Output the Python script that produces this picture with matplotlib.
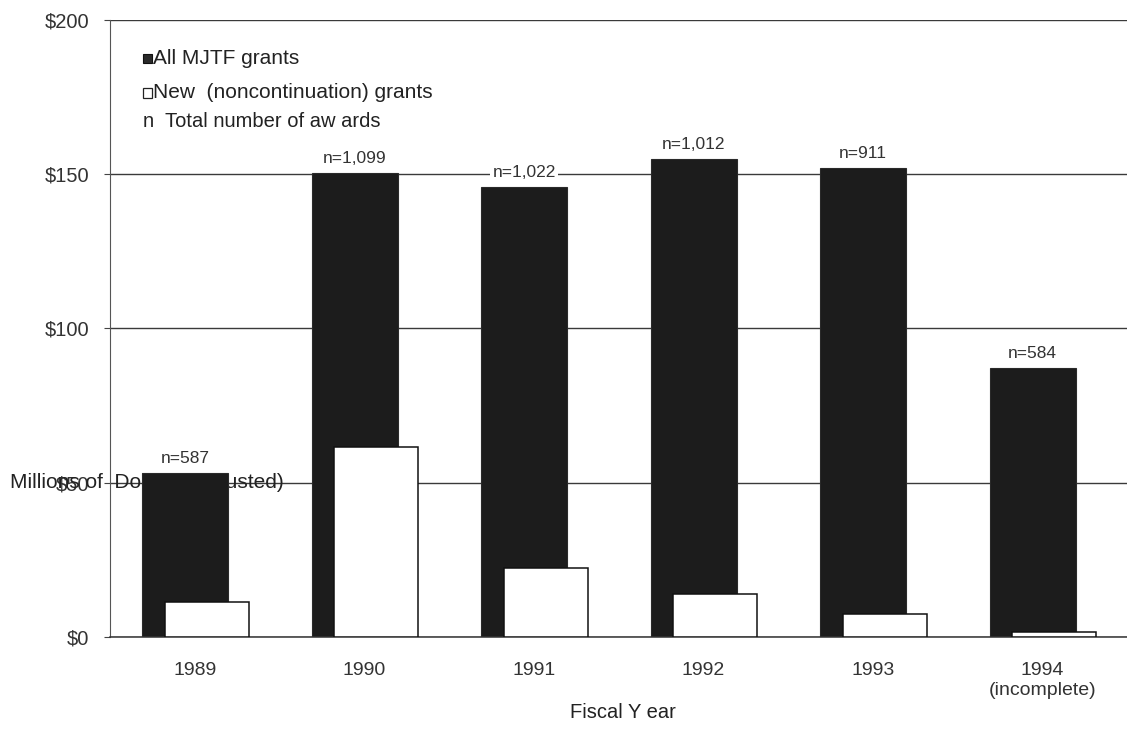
import matplotlib
matplotlib.use("Agg")
import matplotlib.pyplot as plt
from matplotlib.patches import Rectangle
import numpy as np

plt.rcParams['font.family'] = ['Liberation Sans', 'DejaVu Sans']

years = ["1989", "1990", "1991", "1992", "1993", "1994\n(incomplete)"]
all_grants = [53.2, 150.5, 145.8, 155.0, 152.0, 87.3]
new_grants = [11.3, 61.6, 22.4, 14.0, 7.5, 1.6]
n_awards = ["n=587", "n=1,099", "n=1,022", "n=1,012", "n=911", "n=584"]
yticks = [0, 50, 100, 150, 200]

fig = plt.figure(figsize=(11.27, 7.38), dpi=100)
ax = fig.add_axes([0.0976, 0.1369, 0.9024, 0.836])

x = np.arange(len(years))
dark = ax.bar(x - 0.056, all_grants, width=0.51, color='#1c1c1c',
              edgecolor='#2a2a2a', linewidth=0.8, zorder=2)
ax.bar(x + 0.07, new_grants, width=0.495, color='white',
       edgecolor='#111111', linewidth=1.1, zorder=3)

for rect, lab in zip(dark, n_awards):
    ax.text(rect.get_x() + rect.get_width() / 2, rect.get_height() + 2.3, lab,
            ha='center', va='bottom', fontsize=12.5, color='#333333',
            bbox=dict(facecolor='white', edgecolor='none', pad=1.5), zorder=4)

ax.set_xlim(-0.5, 5.5)
ax.set_ylim(0, 200)
ax.set_yticks(yticks)
ax.set_yticklabels(["$%d" % v for v in yticks])
ax.set_xticks(x)
ax.set_xticklabels(years, linespacing=1.25)
ax.tick_params(axis='x', length=0, pad=18, labelsize=14, labelcolor='#333333')
ax.tick_params(axis='y', length=4, width=0.8, pad=11, labelsize=14.5,
               labelcolor='#333333', color='#444444')

ax.set_axisbelow(True)
ax.yaxis.grid(True, color='#3a3a3a', linewidth=1.0)
for side in ['top', 'right']:
    ax.spines[side].set_visible(False)
ax.spines['left'].set_color('#555555')
ax.spines['bottom'].set_color('#333333')
ax.spines['bottom'].set_linewidth(1.1)

ax.set_ylabel("Millions of  Dollars  (adjusted)", rotation=0, ha='left',
              va='center', fontsize=15, color='#222222')
ax.yaxis.set_label_coords(-0.098, 0.25)

fig.text(0.553, 1 - 712 / 738, "Fiscal Y ear", ha='center', va='center',
         fontsize=14.5, color='#222222')

# legend block in the top-left corner
tx = ax.transAxes
ax.add_patch(Rectangle((0.0325, 0.9295), 0.0085, 0.0155, transform=tx,
                       facecolor='#2a2a2a', edgecolor='#111111', lw=0.8,
                       zorder=5))
ax.add_patch(Rectangle((0.0325, 0.874), 0.0085, 0.0155, transform=tx,
                       facecolor='white', edgecolor='#222222', lw=0.9,
                       zorder=5))
ax.text(0.042, 0.937, "All MJTF grants", transform=tx, va='center',
        fontsize=15, color='#222222')
ax.text(0.042, 0.882, "New  (noncontinuation) grants", transform=tx,
        va='center', fontsize=15, color='#222222')
ax.text(0.0325, 0.836, "n  Total number of aw ards", transform=tx,
        va='center', fontsize=14.5, color='#222222')

fig.savefig("out.png", dpi=100, facecolor='white')
